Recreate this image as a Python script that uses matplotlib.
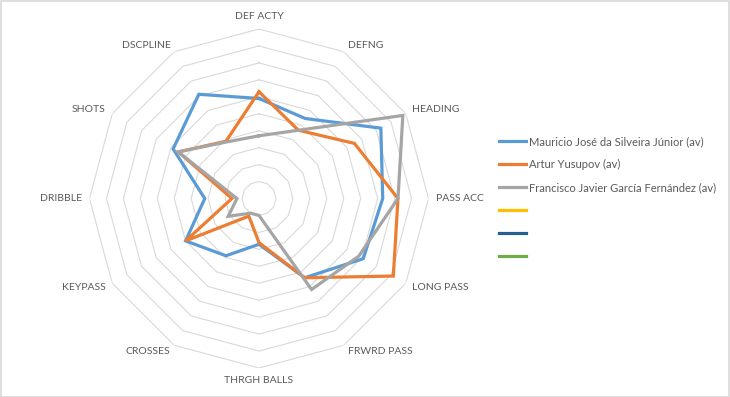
import numpy as np
import matplotlib
matplotlib.use("Agg")
import matplotlib.pyplot as plt
from matplotlib.lines import Line2D
from matplotlib.patches import Rectangle

categories = ["DEF ACTY", "DEFNG", "HEADING", "PASS ACC", "LONG PASS", "FRWRD PASS",
              "THRGH BALLS", "CROSSES", "KEYPASS", "DRIBBLE", "SHOTS", "DSCPLINE"]
series_names = ["Mauricio José da Silveira Júnior (av)", "Artur Yusupov (av)",
                "Francisco Javier García Fernández (av)", "", "", ""]
mauricio = [5.9, 5.45, 8.3, 7.3, 7.1, 5.4, 2.7, 3.9, 5.0, 3.2, 5.85, 7.1]
yusupov = [6.3, 4.65, 6.5, 8.2, 9.15, 5.4, 2.6, 1.2, 5.0, 1.6, 5.5, 3.9]
garcia = [3.7, 4.65, 9.8, 8.2, 6.8, 6.2, 1.0, 1.0, 2.1, 1.3, 5.5, 3.85]
series_values = [mauricio, yusupov, garcia]
colors = ["#5B9BD5", "#ED7D31", "#A5A5A5", "#FFC000", "#255E91", "#70AD47"]
ring_levels = list(range(1, 11))
rmax = 10

W, H = 730, 397
fig = plt.figure(figsize=(W / 100, H / 100), dpi=100)
fig.patch.set_facecolor("white")
fig.add_artist(Rectangle((0.5 / W, 0.5 / H), 1 - 1.5 / W, 1 - 1.5 / H, transform=fig.transFigure,
                         fill=False, edgecolor="#D9D9D9", linewidth=1.2))

cx, cy, R = 259, 198.5, 169.5
ax = fig.add_axes([(cx - R) / W, (cy - R) / H, 2 * R / W, 2 * R / H], projection="polar")
ax.set_theta_offset(np.pi / 2)
ax.set_theta_direction(-1)
ax.set_ylim(0, rmax)
ax.grid(False)
ax.spines["polar"].set_visible(False)
ax.set_xticks([])
ax.set_yticks([])
ax.patch.set_alpha(0)

n = len(categories)
theta = np.arange(n) * 2 * np.pi / n
theta_closed = np.append(theta, theta[0])

for lv in ring_levels:
    ax.plot(theta_closed, [lv] * (n + 1), color="#D9D9D9", linewidth=0.8, zorder=1)

for vals, c in zip(series_values, colors):
    v = np.append(vals, vals[0])
    ax.plot(theta_closed, v, color=c, linewidth=2.3, zorder=3, solid_joinstyle="miter")

font = "Lato"
for t, lab in zip(theta, categories):
    s, co = np.sin(t), np.cos(t)
    if abs(s) < 1e-6:
        ha = "center"
        va = "bottom" if co > 0 else "top"
    else:
        ha = "left" if s > 0 else "right"
        va = "center"
    ax.text(t, 10.45, lab, ha=ha, va=va, fontsize=7.5, color="#595959", family=font,
            clip_on=False)

handles = [Line2D([0], [0], color=c, linewidth=2.3) for c in colors]
fig.legend(handles, series_names, loc="upper left",
           bbox_to_anchor=(499 / W, 1 - 136 / H), frameon=False,
           prop={"family": font, "size": 8.0}, labelcolor="#595959",
           handlelength=2.45, handletextpad=0.25, labelspacing=1.08, borderpad=0,
           borderaxespad=0)

fig.savefig("out.png", dpi=100, facecolor="white")
